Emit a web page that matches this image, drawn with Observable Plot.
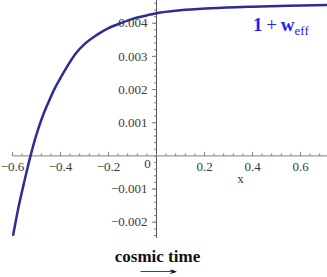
<!DOCTYPE html>
<html>
<head>
<meta charset="utf-8">
<script src="https://cdn.jsdelivr.net/npm/d3@7"></script>
<script src="https://cdn.jsdelivr.net/npm/@observablehq/plot@0.6"></script>
<style>
  html, body { margin: 0; padding: 0; background: #fff; }
  #wrap { position: relative; width: 327px; height: 277px; overflow: hidden; }
  #legend { position: absolute; left: 253px; top: 14px; color: #2020ff; font-family: "Liberation Serif", "DejaVu Serif", serif; font-size: 19px; white-space: nowrap; }
  #legend b { font-weight: bold; }
  #legend sub { font-size: 13px; vertical-align: -4px; line-height: 0; }
  #caption { position: absolute; left: 0; top: 248px; width: 315px; height: 18px; text-align: center; font-family: "Liberation Serif", "DejaVu Serif", serif; font-weight: bold; font-size: 17px; line-height: 18px; color: #111; }
  #arrow { position: absolute; left: 0; top: 266px; width: 317px; height: 11px; text-align: center; font-family: "DejaVu Sans", sans-serif; font-size: 10px; line-height: 11px; color: #111; }
  #arrow span { display: inline-block; transform: scaleX(2.7); }
</style>
</head>
<body>
<div id="wrap">
  <div id="chart"></div>
  <div id="legend"><b>1</b>&thinsp;+&thinsp;<b>w</b><sub>eff</sub></div>
  <div id="caption">cosmic time</div>
  <div id="arrow"><span>⟶</span></div>
</div>
<script>
// curve samples
const xs = [-0.597, -0.575, -0.55, -0.525, -0.50, -0.475, -0.45, -0.425, -0.40, -0.37, -0.335, -0.30, -0.25, -0.20, -0.15, -0.10, -0.05, 0.0, 0.1, 0.225, 0.4, 0.55, 0.712];
const ys = [-0.00238, -0.00155, -0.00075, 0.0, 0.00065, 0.00118, 0.00162, 0.00202, 0.00235, 0.00272, 0.00310, 0.00337, 0.00364, 0.00385, 0.00400, 0.00413, 0.00422, 0.0043, 0.00439, 0.00445, 0.0045, 0.00453, 0.00455];

const xTickValues = [-0.6, -0.4, -0.2, 0.2, 0.4, 0.6];
const xTickLabels = ["\u22120.6", "\u22120.4", "\u22120.2", "0.2", "0.4", "0.6"];
const yTickValues = [-0.002, -0.001, 0.001, 0.002, 0.003, 0.004];
const yTickLabels = ["\u22120.002", "\u22120.001", "0.001", "0.002", "0.003", "0.004"];
const xMinor = d3.range(-0.6, 0.71, 0.04);
const yMinor = d3.range(-0.0024, 0.00461, 0.0002);

const curve = xs.map((x, i) => ({x, y: ys[i]}));

const vTick = { draw(ctx, size) { const l = Math.sqrt(size / Math.PI); ctx.moveTo(0, 0); ctx.lineTo(0, -l); } };
const hTick = { draw(ctx, size) { const l = Math.sqrt(size / Math.PI); ctx.moveTo(0, 0); ctx.lineTo(-l, 0); } };

const axisColor = "#808080";
const labelColor = "#3a3a3a";
const serif = "Liberation Serif, DejaVu Serif, serif";

const chart = Plot.plot({
  width: 327,
  height: 240,
  marginLeft: 0,
  marginRight: 0,
  marginTop: 0,
  marginBottom: 2,
  style: { background: "#fff", fontFamily: serif },
  x: { domain: [-0.65, 0.7125], axis: null },
  y: { domain: [-0.00249, 0.004685], axis: null },
  marks: [
    Plot.ruleY([0], { x1: -0.597, x2: 0.7125, stroke: axisColor, strokeWidth: 1 }),
    Plot.ruleX([0], { stroke: "#555", strokeWidth: 1 }),
    Plot.dot(xMinor, { x: d => d, y: 0, r: 2.5, symbol: vTick, fill: "none", stroke: axisColor, strokeWidth: 1 }),
    Plot.dot(xTickValues, { x: d => d, y: 0, r: 4, symbol: vTick, fill: "none", stroke: axisColor, strokeWidth: 1 }),
    Plot.dot(yMinor, { x: 0, y: d => d, r: 2.5, symbol: hTick, fill: "none", stroke: axisColor, strokeWidth: 1 }),
    Plot.dot(yTickValues, { x: 0, y: d => d, r: 4.5, symbol: hTick, fill: "none", stroke: axisColor, strokeWidth: 1 }),
    Plot.text(xTickValues, { x: d => d, y: 0, text: (d, i) => xTickLabels[i], dy: 11, fontSize: 13, fill: labelColor, fontFamily: serif }),
    Plot.text(yTickValues, { x: 0, y: d => d, text: (d, i) => yTickLabels[i], dx: -9, textAnchor: "end", fontSize: 13, fill: labelColor, fontFamily: serif }),
    Plot.text(["0"], { x: 0, y: 0, text: d => d, dx: -9, dy: 8, fontSize: 13, fill: labelColor, fontFamily: serif }),
    Plot.text(["x"], { x: 0.35, y: 0, text: d => d, dy: 23, fontSize: 13, fill: labelColor, fontFamily: serif }),
    Plot.line(curve, { x: "x", y: "y", curve: "monotone-x", stroke: "#2c2c96", strokeWidth: 2.5 })
  ]
});
document.getElementById("chart").appendChild(chart);
</script>
</body>
</html>
